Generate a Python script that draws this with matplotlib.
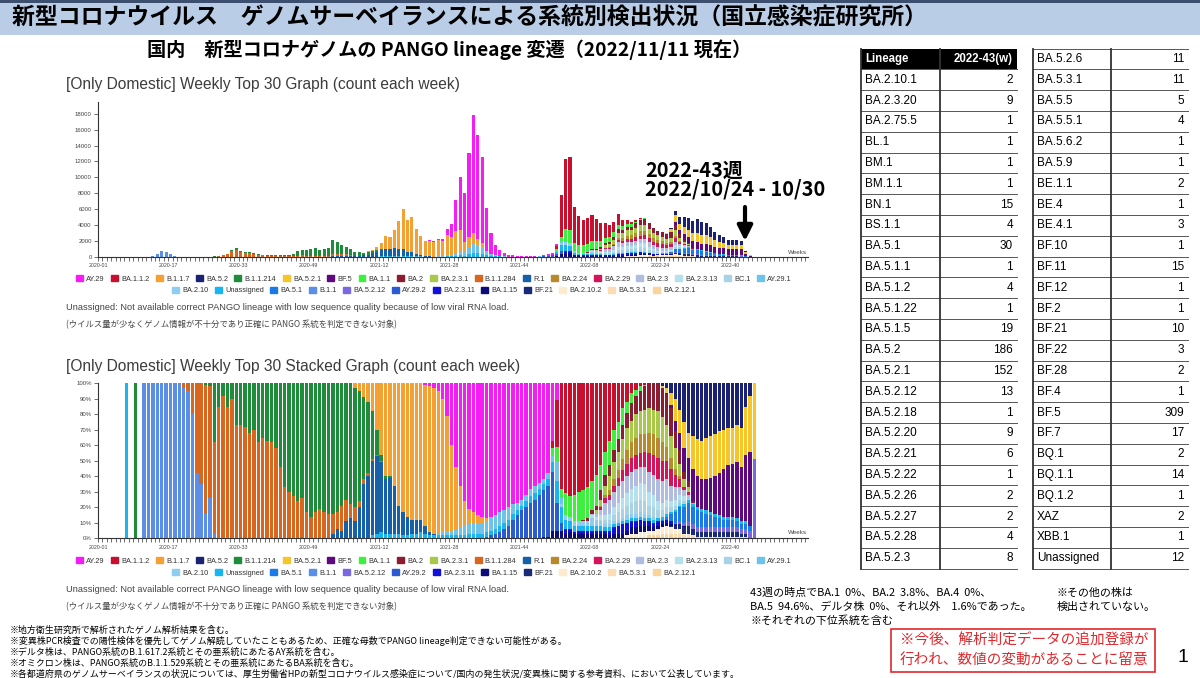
import numpy as np
import matplotlib.pyplot as plt
from matplotlib.patches import Rectangle, Patch

plt.rcParams['font.family'] = ['Liberation Sans', 'Noto Sans CJK JP', 'DejaVu Sans']
JP = ['Noto Sans CJK JP', 'DejaVu Sans']

# ---- data -------------------------------------------------------------
n_weeks = 150   # week index 0 = 2020-01 ... 149 = 2022-45
tick_pos = [0, 16, 32, 48, 64, 80, 96, 112, 128, 144]
tick_labels = ['2020-01', '2020-17', '2020-33', '2020-49', '2021-12',
               '2021-28', '2021-44', '2022-08', '2022-24', '2022-40']

# weekly sequence count (top 30 lineages)
weekly_total = [
    0, 0, 0, 0, 0, 0, 1, 0, 1, 0,
    8, 30, 120, 400, 750, 650, 350, 150, 60, 25,
    15, 12, 15, 20, 30, 50, 100, 150, 250, 400,
    900, 1150, 800, 650, 650, 450, 350, 300, 250, 250,
    250, 250, 250, 300, 350, 700, 900, 850, 1000, 1100,
    900, 1000, 1100, 2100, 1850, 1500, 1300, 950, 650, 600,
    550, 700, 900, 1200, 1800, 2600, 2550, 3400, 4500, 6000,
    4700, 5000, 3500, 2600, 2000, 2100, 2000, 2200, 2300, 3500,
    4100, 7200, 10100, 8000, 13000, 17800, 15300, 12500, 6100, 3000,
    1500, 900, 450, 250, 200, 180, 170, 150, 150, 150,
    180, 250, 350, 450, 1600, 7800, 12300, 12550, 6300, 5100,
    4700, 4900, 5300, 4750, 4250, 4250, 4000, 4400, 5400, 4700,
    4700, 4400, 4600, 4900, 4900, 4250, 3600, 3300, 3200, 3050,
    3700, 5800, 5000, 5000, 4900, 4550, 4750, 4350, 4250, 3750,
    3200, 2750, 2550, 2150, 2150, 2150, 2050, 700, 250, 30,
]

lineage_names = ['AY.29', 'BA.1.1.2', 'B.1.1.7', 'BA.5.2', 'B.1.1.214', 'BA.5.2.1',
                 'BF.5', 'BA.1.1', 'BA.2', 'BA.2.3.1', 'B.1.1.284', 'R.1', 'BA.2.24',
                 'BA.2.29', 'BA.2.3', 'BA.2.3.13', 'BC.1', 'AY.29.1', 'BA.2.10',
                 'Unassigned', 'BA.5.1', 'B.1.1', 'BA.5.2.12', 'AY.29.2', 'BA.2.3.11',
                 'BA.1.15', 'BF.21', 'BA.2.10.2', 'BA.5.3.1', 'BA.2.12.1']
lineage_colors = ['#f51cf5', '#c8102e', '#f5a033', '#1c2273', '#1f8c3b', '#f5c52a',
                  '#5e0a7e', '#3ef03e', '#8b1c32', '#a8c84a', '#d9661f', '#1560a8',
                  '#b88a2e', '#d4145a', '#b0bde0', '#b6e0ee', '#a9d3e4', '#6ec3ea',
                  '#8fcdf0', '#19b5f0', '#1a7ae6', '#5b8ee6', '#7b68e0', '#2c5ad0',
                  '#1010d8', '#0c0c78', '#1b2a78', '#fdebd0', '#fbdcb4', '#f9d49c']

# share of each lineage (%) per week: {first week index: values}
ay29 = {74: [1, 2, 3, 5, 10, 21, 40, 54, 66, 76, 81, 83, 85, 86, 87, 86, 85, 83, 82, 80,
             78, 77, 75, 72, 68, 66, 64, 62, 58, 37, 11]}
ba1_1_2 = {103: [5, 30, 68, 71, 73, 72, 70, 69, 67, 63, 59, 53, 44, 37, 30, 25, 16, 12, 6, 4, 2, 1]}
b1_1_7 = {58: [3, 5, 9, 12, 18, 30, 46, 60, 60, 66, 79, 83, 86, 88, 88, 88, 91, 94, 94, 92,
               86, 74, 55, 40, 27, 16, 10, 8, 6, 4, 2, 1]}
ba5_2 = {128: [2, 3, 6, 10, 17, 25, 32, 34, 36, 37, 35, 34, 33, 31, 30, 29, 29, 27, 29, 15, 8]}
b1_1_214 = {8: [100],
            24: [1, 2, 38, 15, 8, 15, 10, 27, 27, 28, 32, 30, 38, 35, 37, 38, 42, 54, 67, 70,
                 73, 76, 74, 83, 86, 83, 81, 83, 84, 84, 83, 79, 75, 78, 77, 71, 53, 46, 31, 16,
                 4, 2, 1]}
ba5_2_1 = {128: [1, 3, 8, 14, 15, 17, 16, 21, 24, 25, 27, 27, 27, 27, 25, 24, 23, 24, 25, 31, 36, 49]}
bf5 = {129: [1, 2, 7, 11, 15, 15, 21, 20, 19, 20, 22, 24, 27, 31, 33, 34, 36, 35, 43, 48]}
ba1_1 = {103: [5, 9, 6, 14, 13, 17, 19, 19, 20, 19, 20, 16, 15, 16, 13, 11, 11, 7, 7, 4, 3, 1]}
ba2 = {110: [1, 2, 2, 3, 6, 7, 7, 8, 8, 9, 10, 11, 12, 13, 15, 16, 17, 18, 19, 20, 18, 11, 9, 5, 4, 1]}
ba2_3_1 = {113: [2, 4, 6, 9, 11, 12, 13, 14, 14, 15, 15, 16, 16, 16, 17, 16, 14, 14, 13, 8, 5, 3, 1]}
b1_1_284 = {19: [3, 5, 20, 58, 65, 83, 72, 59, 84, 91, 84, 89, 73, 73, 72, 68, 70, 62, 65, 63,
                 62, 58, 46, 33, 30, 27, 24, 26, 17, 14, 17, 19, 17, 16, 13, 11, 16, 14, 9, 9,
                 4, 3, 2, 1, 1, 1]}
r1 = {53: [3, 6, 5, 11, 13, 11, 20, 35, 40, 48, 50, 45, 35, 36, 31, 18, 15, 12, 9, 9, 8, 5, 2, 1]}
ba2_24 = {114: [1, 2, 3, 4, 5, 7, 9, 10, 11, 12, 11, 13, 13, 13, 12, 9, 7, 4, 2]}
ba2_29 = {114: [2, 3, 3, 4, 5, 7, 8, 9, 9, 9, 10, 12, 13, 14, 13, 12, 11, 8, 5, 2, 2]}
ba2_3 = {112: [1, 2, 3, 8, 9, 10, 11, 11, 11, 11, 11, 10, 11, 13, 13, 14, 14, 13, 10, 8, 5, 4, 2]}
ba2_3_13 = {112: [2, 2, 3, 3, 4, 5, 6, 7, 8, 9, 10, 11, 11, 9, 8, 6, 5, 5, 4, 4, 3, 3]}
bc1 = {114: [1, 2, 3, 4, 5, 6, 6, 7, 8, 8, 8, 6, 6, 5, 4, 4, 3, 3, 2, 2]}
ay29_1 = {77: [1, 2, 3, 3, 4, 5, 6, 6, 6, 6, 7, 7, 8, 9, 9, 8, 8, 6, 5, 4, 4, 5, 5, 4, 3,
               4, 4, 13, 4]}
ba2_10 = {105: [2, 3, 3, 3, 3, 3, 3, 5, 4, 3, 3, 2, 2, 2, 2, 3, 3, 3, 3, 3, 2, 2, 0, 0, 0,
                0, 0, 2, 0, 1]}
unassigned = {6: [100],
              62: [2, 3, 4, 3, 3, 3, 3, 2, 2, 3, 3, 4, 3, 2, 2, 2, 2, 2, 2, 2, 2, 2, 3, 3, 3,
                   3, 3, 3, 3, 4, 4, 4, 4, 3, 3, 4, 4, 4, 4, 4, 4, 6, 14, 10, 6, 5, 4, 3, 3, 3,
                   3, 3, 3, 2, 2, 2, 2, 2, 2, 2, 2, 2, 2, 2, 2, 2, 2, 2, 1, 1, 1, 2, 2, 2, 2,
                   2, 2, 2, 2, 2, 2, 2, 2, 2, 2, 2]}
ba5_1 = {128: [1, 2, 5, 7, 9, 10, 12, 11, 11, 10, 9, 8, 7, 6, 5, 5, 5, 4, 3, 3, 3]}
b1_1 = {10: [100, 100, 100, 100, 100, 100, 100, 100, 100, 97, 95, 80, 42, 35, 16, 26, 3, 1, 1, 1, 1]}
ba5_2_12 = {131: [1, 2, 2, 3, 3, 3, 3, 3, 3, 3, 3, 3, 3, 3, 3, 3, 3, 5, 51]}
ay29_2 = {88: [1, 2, 3, 4, 6, 8, 12, 15, 18, 20, 23, 25, 28, 30, 33, 38, 18, 5]}
ba2_3_11 = {106: [3, 2, 1, 2, 2, 2, 2, 2, 2, 2, 3, 4, 5, 6, 5, 4, 4, 4, 3, 3, 3, 3, 2, 2, 2, 1]}
ba1_15 = {101: [1, 1, 5, 5, 5, 3, 4, 3, 3, 3, 3, 3, 3, 3, 3, 2, 3, 3, 3, 3, 4, 4, 4, 4, 3,
                2, 2, 2, 2, 1, 0, 0, 1]}
bf21 = {130: [1, 2, 3, 4, 5, 4, 3, 3, 3, 3, 3, 3, 3, 3, 3, 3, 2, 2]}
ba2_10_2 = {120: [2, 3, 3, 4, 4, 3, 3, 4, 4, 5, 4, 3, 3, 1]}
ba5_3_1 = {130: [1, 2, 2, 2, 3, 2, 1, 1, 1, 1, 1, 1, 1, 1, 1, 1, 1, 1]}
ba2_12_1 = {125: [2, 2, 2, 3, 3, 2, 1, 1]}

shares = [ay29, ba1_1_2, b1_1_7, ba5_2, b1_1_214, ba5_2_1, bf5, ba1_1, ba2, ba2_3_1,
          b1_1_284, r1, ba2_24, ba2_29, ba2_3, ba2_3_13, bc1, ay29_1, ba2_10, unassigned,
          ba5_1, b1_1, ba5_2_12, ay29_2, ba2_3_11, ba1_15, bf21, ba2_10_2, ba5_3_1, ba2_12_1]

# table 2022-43(w)
tbl_left_names = ['BA.2.10.1', 'BA.2.3.20', 'BA.2.75.5', 'BL.1', 'BM.1', 'BM.1.1', 'BN.1',
                  'BS.1.1', 'BA.5.1', 'BA.5.1.1', 'BA.5.1.2', 'BA.5.1.22', 'BA.5.1.5',
                  'BA.5.2', 'BA.5.2.1', 'BA.5.2.12', 'BA.5.2.18', 'BA.5.2.20', 'BA.5.2.21',
                  'BA.5.2.22', 'BA.5.2.26', 'BA.5.2.27', 'BA.5.2.28', 'BA.5.2.3']
tbl_left_counts = [2, 9, 1, 1, 1, 1, 15, 4, 30, 1, 4, 1, 19, 186, 152, 13, 1, 9, 6, 1, 2, 2, 4, 8]
tbl_right_names = ['BA.5.2.6', 'BA.5.3.1', 'BA.5.5', 'BA.5.5.1', 'BA.5.6.2', 'BA.5.9', 'BE.1.1',
                   'BE.4', 'BE.4.1', 'BF.10', 'BF.11', 'BF.12', 'BF.2', 'BF.21', 'BF.22',
                   'BF.28', 'BF.4', 'BF.5', 'BF.7', 'BQ.1', 'BQ.1.1', 'BQ.1.2', 'XAZ',
                   'XBB.1', 'Unassigned']
tbl_right_counts = [11, 11, 5, 4, 1, 1, 2, 1, 3, 1, 15, 1, 1, 10, 3, 2, 1, 309, 17, 2, 14, 1,
                    2, 1, 12]

# ---- build matrices ---------------------------------------------------
pct = np.zeros((len(shares), n_weeks))
for k, seg in enumerate(shares):
    for start, vals in seg.items():
        pct[k, start:start + len(vals)] = vals
counts = pct * np.array(weekly_total) / 100.0
x = np.arange(n_weeks) + 0.5

W, H = 1200, 678
fig = plt.figure(figsize=(12, 6.78), dpi=100)


def add_ax(left, top, right, bottom):
    return fig.add_axes([left / W, 1 - bottom / H, (right - left) / W, (bottom - top) / H])


def style_axis(ax, ytop):
    ax.set_xlim(0, 161.7)
    ax.set_ylim(0, ytop)
    ax.patch.set_alpha(0)
    for s in ['top', 'right']:
        ax.spines[s].set_visible(False)
    for s in ['left', 'bottom']:
        ax.spines[s].set_color('#333333')
        ax.spines[s].set_linewidth(0.8)
    ax.set_xticks(tick_pos)
    ax.set_xticklabels(tick_labels, fontsize=3.8, color='#444444')
    ax.set_xticks(np.arange(0, 162), minor=True)
    ax.tick_params(axis='x', which='both', length=3, width=0.5, color='#333333', pad=1.5)
    ax.tick_params(axis='y', length=3, width=0.5, color='#333333', labelsize=4.3,
                   labelcolor='#444444', pad=1.5)


order = list(range(len(shares)))[::-1]   # last legend entry at the bottom of the stack

# top chart: counts
ax1 = add_ax(98, 101.7, 808, 257)
bottom = np.zeros(n_weeks)
for k in order:
    ax1.bar(x, counts[k], bottom=bottom, width=0.7, color=lineage_colors[k], linewidth=0)
    bottom += counts[k]
style_axis(ax1, 19500)
ax1.set_yticks(range(0, 18001, 2000))

# bottom chart: share
ax2 = add_ax(98, 383.3, 808, 538.3)
bottom = np.zeros(n_weeks)
for k in order:
    ax2.bar(x, pct[k], bottom=bottom, width=0.78, color=lineage_colors[k], linewidth=0)
    bottom += pct[k]
style_axis(ax2, 100)
ax2.set_yticks(range(0, 101, 10))
ax2.set_yticklabels([f'{v}%' for v in range(0, 101, 10)])

# legends
handles = [Patch(color=c, label=n) for n, c in zip(lineage_names, lineage_colors)]
for y_row1, y_row2 in [(279, 290.5), (561, 573)]:
    for hs, yy in [(handles[:18], y_row1), (handles[18:], y_row2)]:
        fig.legend(handles=hs, loc='center', bbox_to_anchor=(434 / W, 1 - yy / H),
                   ncol=len(hs), frameon=False, fontsize=5.3, handlelength=0.95,
                   handleheight=0.95, handletextpad=0.45, columnspacing=0.85,
                   borderpad=0, borderaxespad=0, labelcolor='#333333')

# ---- overlay for the slide texts --------------------------------------
ax0 = fig.add_axes([0, 0, 1, 1], zorder=5)
ax0.set_xlim(0, W)
ax0.set_ylim(H, 0)
ax0.axis('off')
ax0.patch.set_alpha(0)

ax0.add_patch(Rectangle((0, 0), W, 35, color='#b9cde6', lw=0))
ax0.add_patch(Rectangle((0, 0), W, 2.5, color='#3d4f6e', lw=0))
ax0.text(12, 18, '新型コロナウイルス　ゲノムサーベイランスによる系統別検出状況（国立感染症研究所）',
         family=JP, fontsize=16.5, fontweight='bold', va='center', ha='left')
ax0.text(449, 50, '国内　新型コロナゲノムの PANGO lineage 変遷（2022/11/11 現在）',
         family=JP, fontsize=13.8, fontweight='bold', va='center', ha='center')

ax0.text(66, 84, '[Only Domestic] Weekly Top 30 Graph (count each week)',
         fontsize=11.2, color='#3c3c3c', va='center')
ax0.text(66, 367, '[Only Domestic] Weekly Top 30 Stacked Graph (count each week)',
         fontsize=11.2, color='#3c3c3c', va='center')
for yy in (252, 533):
    ax0.text(797, yy, 'Weeks', fontsize=4.5, color='#444444', ha='center', va='center')

for y_en, y_jp in [(307, 325), (590, 607)]:
    ax0.text(66, y_en, 'Unassigned: Not available correct PANGO lineage with low sequence '
             'quality because of low viral RNA load.', fontsize=6.7, color='#444444', va='center')
    ax0.text(66, y_jp, '(ウイルス量が少なくゲノム情報が不十分であり正確に PANGO 系統を判定できない対象)',
             family=JP, fontsize=6, color='#444444', va='center')

# week annotation and arrow
ax0.text(645, 170, '2022-43週', family=JP, fontsize=14.3, fontweight='bold', va='center')
ax0.text(645, 189, '2022/10/24 - 10/30', family=JP, fontsize=14.3, fontweight='bold', va='center')
ax0.annotate('', xy=(745, 241), xytext=(745, 207),
             arrowprops=dict(arrowstyle='-|>,head_width=0.45,head_length=0.9', lw=3,
                             color='black', mutation_scale=10, shrinkA=0, shrinkB=0))

# notes
notes = ['※地方衛生研究所で解析されたゲノム解析結果を含む。',
         '※変異株PCR検査での陽性検体を優先してゲノム解読していたこともあるため、正確な母数でPANGO lineage判定できない可能性がある。',
         '※デルタ株は、PANGO系統のB.1.617.2系統とその亜系統にあたるAY系統を含む。',
         '※オミクロン株は、PANGO系統のB.1.1.529系統とその亜系統にあたるBA系統を含む。',
         '※各都道府県のゲノムサーベイランスの状況については、厚生労働省HPの新型コロナウイルス感染症について/国内の発生状況/変異株に関する参考資料、において公表しています。']
for j, s in enumerate(notes):
    ax0.text(10, 630 + 11 * j, s, family=JP, fontsize=6.45, va='center')

ax0.text(750, 593, '43週の時点でBA.1  0%、BA.2  3.8%、BA.4  0%、', family=JP, fontsize=7.9, va='center')
ax0.text(750, 607, 'BA.5  94.6%、デルタ株  0%、それ以外　1.6%であった。', family=JP, fontsize=7.9, va='center')
ax0.text(750, 621, '※それぞれの下位系統を含む', family=JP, fontsize=7.9, va='center')
ax0.text(1057, 593, '※その他の株は', family=JP, fontsize=7.9, va='center')
ax0.text(1057, 607, '検出されていない。', family=JP, fontsize=7.9, va='center')

ax0.add_patch(Rectangle((891, 629), 264, 43, fill=False, ec='#e0282c', lw=1.2))
ax0.text(900, 641, '※今後、解析判定データの追加登録が', family=JP, fontsize=10.5,
         color='#e0282c', va='center')
ax0.text(900, 661, '行われ、数値の変動があることに留意', family=JP, fontsize=10.5,
         color='#e0282c', va='center')
ax0.text(1183, 658, '1', fontsize=14, va='center', ha='center')

# tables
row_h = 20.8
top = 48.6
xl0, xl1, xl2 = 861, 940, 1017
xr0, xr1, xr2 = 1033, 1111, 1188
ax0.add_patch(Rectangle((xl0, top), xl2 - xl0, row_h, color='black', lw=0))
ax0.text(xl0 + 4, top + row_h / 2, 'Lineage', fontsize=8.3, fontweight='bold', color='white', va='center')
ax0.text(xl2 - 4, top + row_h / 2, '2022-43(w)', fontsize=8.3, fontweight='bold', color='white',
         va='center', ha='right')
for r in range(1, 26):
    ax0.plot([xl0, xl2], [top + r * row_h] * 2, color='#555555', lw=0.7)
for r in range(0, 26):
    ax0.plot([xr0, xr2], [top + r * row_h] * 2, color='#555555', lw=0.7)
for xv in (xl0, xl1, xr0, xr1):
    ax0.plot([xv, xv], [top, top + 25 * row_h], color='#333333', lw=1.3)
for r, (nm, ct) in enumerate(zip(tbl_left_names, tbl_left_counts), start=1):
    yc = top + (r + 0.5) * row_h
    ax0.text(xl0 + 4, yc, nm, fontsize=8.5, va='center')
    ax0.text(xl2 - 4, yc, str(ct), fontsize=8.5, va='center', ha='right')
for r, (nm, ct) in enumerate(zip(tbl_right_names, tbl_right_counts)):
    yc = top + (r + 0.5) * row_h
    ax0.text(xr0 + 4, yc, nm, fontsize=8.5, va='center')
    ax0.text(xr2 - 4, yc, str(ct), fontsize=8.5, va='center', ha='right')

fig.savefig('out.png', dpi=100)
